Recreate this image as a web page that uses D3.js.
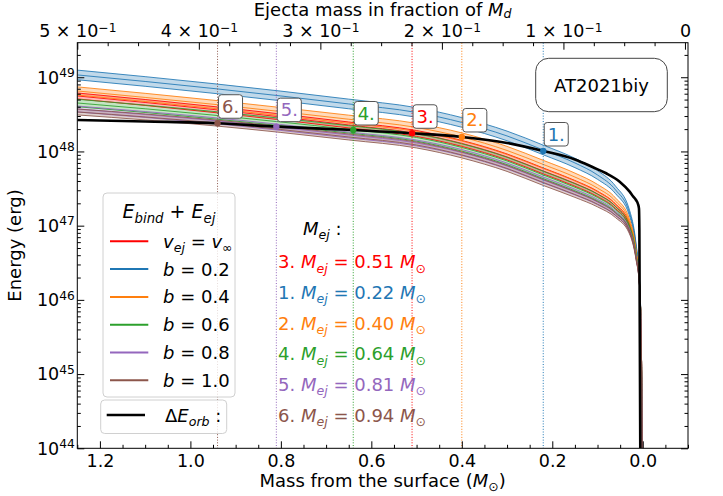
<!DOCTYPE html>
<html>
<head>
<meta charset="utf-8">
<script src="https://cdn.jsdelivr.net/npm/d3@7"></script>
<style>
  body { margin: 0; background: #fff; }
  svg { display: block; }
  text { font-family: "DejaVu Sans", sans-serif; }
</style>
</head>
<body>
<svg id="chart" width="723" height="496"></svg>
<script>
// ---- data -------------------------------------------------------------
// mass coordinate measured from the stellar surface (Msun)
const massGrid = [1.25, 1.1, 0.95, 0.8, 0.65, 0.5, 0.4, 0.3, 0.22, 0.15, 0.1, 0.06, 0.03, 0.015, 0.007, 0.003, 0.0015];

// log10 of E_bind + E_ej (erg), central curve of each family
const logE_vinf = [48.748, 48.660, 48.566, 48.465, 48.357, 48.242, 48.108, 47.926, 47.737, 47.570, 47.428, 47.260, 47.015, 46.626, 46.198, 45.311, 44.004];
const logE_b02  = [49.031, 48.943, 48.849, 48.748, 48.640, 48.525, 48.391, 48.209, 48.020, 47.845, 47.683, 47.481, 47.184, 46.740, 46.241, 45.325, 44.004];
const logE_b04  = [48.815, 48.728, 48.636, 48.537, 48.434, 48.323, 48.195, 48.013, 47.825, 47.655, 47.506, 47.329, 47.067, 46.661, 46.211, 45.315, 44.004];
const logE_b06  = [48.653, 48.575, 48.490, 48.397, 48.298, 48.188, 48.054, 47.872, 47.683, 47.518, 47.380, 47.218, 46.982, 46.605, 46.190, 45.308, 44.004];
const logE_b08  = [48.572, 48.498, 48.417, 48.323, 48.222, 48.114, 47.986, 47.804, 47.616, 47.453, 47.319, 47.165, 46.942, 46.578, 46.180, 45.304, 44.004];
const logE_b10  = [48.532, 48.465, 48.387, 48.296, 48.195, 48.087, 47.953, 47.771, 47.582, 47.420, 47.289, 47.139, 46.922, 46.564, 46.175, 45.303, 44.004];

// half width of each family's uncertainty band (dex) and how it narrows toward the surface
const bandHalfWidth = [0.04, 0.065, 0.055, 0.05, 0.04, 0.04];
const bandTaper = [1, 1, 1, 1, 1, 1, 1, 1, 1, 0.97, 0.9, 0.78, 0.6, 0.4, 0.15, 0.05, 0];

// orbital energy change Delta E_orb
const orbMass = [1.25, 1.1, 0.94, 0.81, 0.64, 0.51, 0.40, 0.30, 0.22, 0.15, 0.11, 0.081, 0.051, 0.029, 0.022, 0.015, 0.0106, 0.0084, 0.0075, 0.0055];
const orbLogE = [48.424, 48.404, 48.380, 48.334, 48.289, 48.245, 48.195, 48.114, 48.006, 47.892, 47.787, 47.706, 47.593, 47.458, 47.400, 47.346, 47.292, 47.234, 46.942, 44.004];

// series meta
const seriesLabels = ["v_ej = v_inf", "b = 0.2", "b = 0.4", "b = 0.6", "b = 0.8", "b = 1.0"];
const seriesColors = ["#ff0000", "#1f77b4", "#ff7f0e", "#2ca02c", "#9467bd", "#8c564b"];
const ejectaNumber = ["3.", "1.", "2.", "4.", "5.", "6."];
const ejectaMass   = [0.51, 0.22, 0.40, 0.64, 0.81, 0.94];
const ejectaText   = ["0.51", "0.22", "0.40", "0.64", "0.81", "0.94"];

// axes
const massDomain = [1.25, -0.1];
const fractionDomain = [0.5, -0.0025];
const energyDomain = [1e44, 2.92e49];
const massTicks = [1.2, 1.0, 0.8, 0.6, 0.4, 0.2, 0.0];
const massTickLabels = ["1.2", "1.0", "0.8", "0.6", "0.4", "0.2", "0.0"];
const fractionTicks = [0.5, 0.4, 0.3, 0.2, 0.1, 0];
const fractionMantissa = ["5", "4", "3", "2", "1", null];
const energyDecades = [44, 45, 46, 47, 48, 49];

const seriesLog = [logE_vinf, logE_b02, logE_b04, logE_b06, logE_b08, logE_b10];

// ---- layout -----------------------------------------------------------
const plot = { left: 77.3, right: 688, top: 42.7, bottom: 448.3 };
const svg = d3.select("#chart");

const x = d3.scaleLinear().domain(massDomain).range([plot.left, plot.right]);
const xTop = d3.scaleLinear().domain(fractionDomain).range([plot.left, plot.right]);
const y = d3.scaleLog().domain(energyDomain).range([plot.bottom, plot.top]);

// rich text helper: parts = [{t, i (italic), sub, sup}]
function rich(sel, parts, fs, opts) {
  const subShift = (opts && opts.sub != null) ? opts.sub : 0.24;
  const supShift = (opts && opts.sup != null) ? opts.sup : 0.38;
  let shift = 0;
  parts.forEach(p => {
    const ts = sel.append("tspan").text(p.t);
    let target = 0;
    if (p.sub) target = subShift * fs;
    if (p.sup) target = -supShift * fs;
    if (target !== shift) { ts.attr("dy", target - shift); shift = target; }
    if (p.sub || p.sup) ts.attr("font-size", fs * 0.7);
    if (p.i) ts.attr("font-style", "italic");
  });
  return sel;
}

svg.append("defs").append("clipPath").attr("id", "clip")
  .append("rect")
  .attr("x", plot.left).attr("y", plot.top)
  .attr("width", plot.right - plot.left).attr("height", plot.bottom - plot.top);

const gPlot = svg.append("g").attr("clip-path", "url(#clip)");

// ---- bands ------------------------------------------------------------
const drawOrder = [0, 1, 2, 3, 4, 5];
drawOrder.forEach(s => {
  const vals = seriesLog[s];
  const hw = bandHalfWidth[s];
  const area = d3.area()
    .x((d, j) => x(massGrid[j]))
    .y0((d, j) => y(Math.pow(10, vals[j] - hw * bandTaper[j])))
    .y1((d, j) => y(Math.pow(10, vals[j] + hw * bandTaper[j])))
    .curve(d3.curveMonotoneX);
  gPlot.append("path").datum(vals)
    .attr("d", area)
    .attr("fill", seriesColors[s])
    .attr("fill-opacity", 0.28)
    .attr("stroke", "none");
});

drawOrder.forEach(s => {
  const vals = seriesLog[s];
  const hw = bandHalfWidth[s];
  [-1, 0, 1].forEach(k => {
    const line = d3.line()
      .x((d, j) => x(massGrid[j]))
      .y((d, j) => y(Math.pow(10, vals[j] + k * hw * bandTaper[j])))
      .curve(d3.curveMonotoneX);
    gPlot.append("path").datum(vals)
      .attr("d", line)
      .attr("fill", "none")
      .attr("stroke", seriesColors[s])
      .attr("stroke-width", 1)
      .attr("stroke-opacity", 0.85);
  });
});

// ---- ejecta-mass markers (dotted verticals) ----------------------------
ejectaMass.forEach((m, s) => {
  gPlot.append("line")
    .attr("x1", x(m)).attr("x2", x(m))
    .attr("y1", plot.top).attr("y2", plot.bottom)
    .attr("stroke", seriesColors[s])
    .attr("stroke-width", 1)
    .attr("stroke-dasharray", "1,1.7");
});

// ---- Delta E_orb ------------------------------------------------------
const orbLine = d3.line()
  .x((d, j) => x(orbMass[j]))
  .y((d, j) => y(Math.pow(10, orbLogE[j])))
  .curve(d3.curveMonotoneX);
gPlot.append("path").datum(orbLogE)
  .attr("d", orbLine)
  .attr("fill", "none")
  .attr("stroke", "#000")
  .attr("stroke-width", 2.6)
  .attr("stroke-linejoin", "round");

const orbAt = d3.scaleLinear().domain(orbMass).range(orbLogE);

ejectaMass.forEach((m, s) => {
  const cx = x(m), cy = y(Math.pow(10, orbAt(m)));
  gPlot.append("circle").attr("cx", cx).attr("cy", cy).attr("r", 3.2)
    .attr("fill", seriesColors[s]);
});
ejectaMass.forEach((m, s) => {
  const cx = x(m), cy = y(Math.pow(10, orbAt(m)));
  svg.append("rect")
    .attr("x", cx + 1).attr("y", cy - 28.5)
    .attr("width", 24).attr("height", 23.5).attr("rx", 3)
    .attr("fill", "#fff").attr("stroke", "#555").attr("stroke-width", 1);
  svg.append("text")
    .attr("x", cx + 13).attr("y", cy - 10.5)
    .attr("text-anchor", "middle")
    .attr("font-size", 18)
    .attr("fill", seriesColors[s])
    .text(ejectaNumber[s]);
});

// ---- axes ---------------------------------------------------------------
svg.append("rect")
  .attr("x", plot.left).attr("y", plot.top)
  .attr("width", plot.right - plot.left).attr("height", plot.bottom - plot.top)
  .attr("fill", "none").attr("stroke", "#000").attr("stroke-width", 1);

function styleAxis(g) {
  g.select(".domain").remove();
  g.selectAll(".tick line").attr("stroke", "#000").attr("stroke-width", 1);
}

// bottom
const massMinor = d3.range(-0.1, 1.2501, 0.05).map(v => Math.round(v * 100) / 100)
  .filter(v => !massTicks.some(t => Math.abs(t - v) < 1e-6));
svg.append("g").attr("transform", `translate(0,${plot.bottom})`)
  .call(d3.axisBottom(x).tickValues(massMinor).tickSize(-3.5).tickFormat(""))
  .call(styleAxis);
const gBottom = svg.append("g").attr("transform", `translate(0,${plot.bottom})`)
  .call(d3.axisBottom(x).tickValues(massTicks).tickSize(-7).tickPadding(0)
    .tickFormat((d, i) => massTickLabels[i]))
  .call(styleAxis);
gBottom.selectAll(".tick text")
  .attr("y", 18.3).attr("dy", null)
  .attr("font-size", 17.5).attr("fill", "#000")
  .attr("font-family", "DejaVu Sans, sans-serif");

// top
const fracMinor = d3.range(0, 0.5001, 0.025).map(v => Math.round(v * 1000) / 1000)
  .filter(v => !fractionTicks.some(t => Math.abs(t - v) < 1e-6));
svg.append("g").attr("transform", `translate(0,${plot.top})`)
  .call(d3.axisTop(xTop).tickValues(fracMinor).tickSize(-3.5).tickFormat(""))
  .call(styleAxis);
const gTop = svg.append("g").attr("transform", `translate(0,${plot.top})`)
  .call(d3.axisTop(xTop).tickValues(fractionTicks).tickSize(-7).tickFormat(""))
  .call(styleAxis);
gTop.selectAll(".tick").each(function (d, i) {
  const t = d3.select(this).append("text")
    .attr("x", 0).attr("y", -5.4)
    .attr("text-anchor", "middle")
    .attr("font-size", 17.5).attr("fill", "#000");
  if (fractionMantissa[i] === null) {
    t.text("0");
  } else {
    rich(t, [{ t: fractionMantissa[i] + " × 10" }, { t: "−1", sup: true }], 17.5, { sup: 0.3 });
  }
});

// left / right (log)
const energyMajor = energyDecades.map(e => Math.pow(10, e));
const energyMinor = [];
energyDecades.forEach(e => {
  for (let k = 2; k <= 9; k++) {
    const v = k * Math.pow(10, e);
    if (v <= energyDomain[1]) energyMinor.push(v);
  }
});
[[d3.axisLeft, plot.left], [d3.axisRight, plot.right]].forEach(([axisFn, pos]) => {
  svg.append("g").attr("transform", `translate(${pos},0)`)
    .call(axisFn(y).tickValues(energyMinor).tickSize(-3.5).tickFormat(""))
    .call(styleAxis);
  svg.append("g").attr("transform", `translate(${pos},0)`)
    .call(axisFn(y).tickValues(energyMajor).tickSize(-7).tickFormat(""))
    .call(styleAxis);
});
energyDecades.forEach((e, i) => {
  const t = svg.append("text")
    .attr("x", plot.left - 2.5).attr("y", y(energyMajor[i]) + 6.3)
    .attr("text-anchor", "end")
    .attr("font-size", 17.5).attr("fill", "#000");
  rich(t, [{ t: "10" }, { t: String(e), sup: true }], 17.5);
});

// axis titles
rich(svg.append("text")
  .attr("x", (plot.left + plot.right) / 2).attr("y", 486.5)
  .attr("text-anchor", "middle").attr("font-size", 18),
  [{ t: "Mass from the surface (" }, { t: "M", i: true }, { t: "⊙", sub: true }, { t: ")" }], 18);

rich(svg.append("text")
  .attr("x", (plot.left + plot.right) / 2).attr("y", 15.5)
  .attr("text-anchor", "middle").attr("font-size", 18),
  [{ t: "Ejecta mass in fraction of " }, { t: "M", i: true }, { t: "d", i: true, sub: true }], 18, { sub: 0.15 });

svg.append("text")
  .attr("transform", `translate(21,${(plot.top + plot.bottom) / 2}) rotate(-90)`)
  .attr("text-anchor", "middle").attr("font-size", 18)
  .text("Energy (erg)");

// ---- object tag ---------------------------------------------------------
svg.append("rect")
  .attr("x", 535.7).attr("y", 58.3).attr("width", 131.6).attr("height", 53.4).attr("rx", 13)
  .attr("fill", "#fff").attr("stroke", "#444").attr("stroke-width", 1);
svg.append("text")
  .attr("x", 601.5).attr("y", 91.5).attr("text-anchor", "middle")
  .attr("font-size", 18).text("AT2021biy");

// ---- legend: E_bind + E_ej -----------------------------------------------
const leg = svg.append("g");
leg.append("rect")
  .attr("x", 103).attr("y", 193).attr("width", 132).attr("height", 204).attr("rx", 4)
  .attr("fill", "#fff").attr("fill-opacity", 0.8).attr("stroke", "#d0d0d0");
rich(leg.append("text").attr("x", 169).attr("y", 218).attr("text-anchor", "middle").attr("font-size", 19),
  [{ t: "E", i: true }, { t: "bind", i: true, sub: true }, { t: " + " }, { t: "E", i: true }, { t: "ej", i: true, sub: true }], 19);

const legendLabelParts = [
  [{ t: "v", i: true }, { t: "ej", i: true, sub: true }, { t: " = " }, { t: "v", i: true }, { t: "∞", sub: true }],
  [{ t: "b", i: true }, { t: " = 0.2" }],
  [{ t: "b", i: true }, { t: " = 0.4" }],
  [{ t: "b", i: true }, { t: " = 0.6" }],
  [{ t: "b", i: true }, { t: " = 0.8" }],
  [{ t: "b", i: true }, { t: " = 1.0" }]
];
seriesLabels.forEach((lab, s) => {
  const cy = 241.3 + s * 27.8;
  leg.append("line").attr("x1", 110).attr("x2", 148.3).attr("y1", cy).attr("y2", cy)
    .attr("stroke", seriesColors[s]).attr("stroke-width", 2);
  rich(leg.append("text").attr("x", 163).attr("y", cy + 6.5).attr("font-size", 18),
    legendLabelParts[s], 18);
});

// ---- legend: Delta E_orb --------------------------------------------------
const leg2 = svg.append("g");
leg2.append("rect")
  .attr("x", 100.7).attr("y", 400).attr("width", 126).attr("height", 33.5).attr("rx", 4)
  .attr("fill", "#fff").attr("fill-opacity", 0.8).attr("stroke", "#d0d0d0");
leg2.append("line").attr("x1", 106.7).attr("x2", 145).attr("y1", 415).attr("y2", 415)
  .attr("stroke", "#000").attr("stroke-width", 2.6);
rich(leg2.append("text").attr("x", 165).attr("y", 421.5).attr("font-size", 18),
  [{ t: "Δ" }, { t: "E", i: true }, { t: "orb", i: true, sub: true }, { t: " :" }], 18);

// ---- ejecta mass list -------------------------------------------------------
rich(svg.append("text").attr("x", 303).attr("y", 235).attr("font-size", 18),
  [{ t: "M", i: true }, { t: "ej", i: true, sub: true }, { t: " :" }], 18);
ejectaText.forEach((txt, s) => {
  rich(svg.append("text").attr("x", 278).attr("y", 268.3 + s * 30.7)
    .attr("font-size", 18).attr("fill", seriesColors[s]),
    [{ t: ejectaNumber[s] + " " }, { t: "M", i: true }, { t: "ej", i: true, sub: true },
     { t: " = " + txt + " " }, { t: "M", i: true }, { t: "⊙", sub: true }], 18);
});
</script>
</body>
</html>
